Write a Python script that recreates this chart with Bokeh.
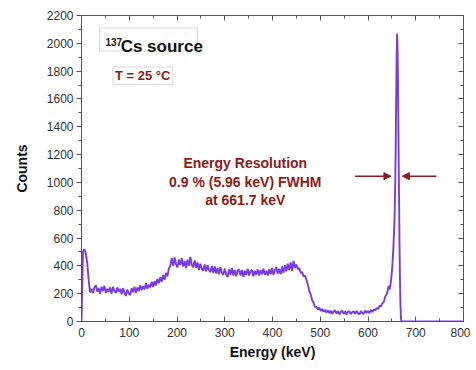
from bokeh.plotting import figure
from bokeh.models import (Label, BoxAnnotation, Arrow, NormalHead, LinearAxis,
                          FixedTicker, Range1d, CustomLabelingPolicy)
from bokeh.embed import file_html
from bokeh.resources import INLINE

# ---- data ----
energy_low = list(range(0, 640, 3))  # 0..639 keV, 3 keV channels
counts_low = [
    0, 500, 520, 490, 420, 300, 210, 235, 205, 245,
    260, 215, 240, 200, 250, 220, 255, 205, 235, 215,
    245, 200, 250, 220, 205, 245, 215, 235, 195, 240,
    205, 185, 230, 200, 190, 240, 210, 250, 205, 245,
    220, 260, 225, 255, 230, 275, 235, 265, 245, 285,
    250, 290, 260, 305, 275, 320, 285, 335, 300, 350,
    325, 380, 400, 455, 400, 460, 410, 390, 445, 405,
    455, 395, 435, 385, 445, 400, 465, 405, 390, 440,
    385, 425, 370, 415, 380, 365, 410, 360, 405, 370,
    355, 400, 350, 395, 345, 385, 340, 390, 350, 335,
    380, 340, 320, 375, 335, 385, 330, 370, 325, 365,
    375, 330, 370, 320, 365, 335, 380, 330, 360, 370,
    325, 365, 335, 375, 330, 370, 340, 380, 335, 365,
    330, 375, 340, 385, 335, 370, 390, 345, 380, 340,
    395, 350, 405, 360, 415, 370, 425, 365, 435, 385,
    410, 375, 385, 350, 355, 325, 330, 300, 265, 220,
    195, 155, 135, 105, 105, 85, 100, 75, 90, 70,
    85, 65, 80, 60, 78, 55, 72, 80, 57, 75,
    52, 70, 78, 55, 72, 50, 70, 75, 53, 68,
    73, 55, 77, 58, 52, 75, 62, 55, 80, 62,
    75, 60, 84, 68, 86, 80, 96, 90, 112, 110,
    130, 140, 178, 195,
]
energy_peak = [641, 643, 645, 647, 649, 651, 653, 655, 656, 657, 658, 659,
               660, 661, 662, 663, 664, 665, 666, 667, 668, 669, 670, 700, 800]
counts_peak = [215, 255, 230, 260, 320, 400, 520, 680, 800, 1000, 1250, 1600,
               1900, 2070, 1950, 1650, 1250, 900, 550, 300, 120, 30, 0, 0, 0]

energy = energy_low + energy_peak
counts = counts_low + counts_peak

x_ticks = [0, 100, 200, 300, 400, 500, 600, 700, 800]
y_ticks = [0, 200, 400, 600, 800, 1000, 1200, 1400, 1600, 1800, 2000, 2200]

RED = "#8e1b1b"
LINE = "#7a3ce2"
AXIS = "#555555"

p = figure(width=470, height=364, output_backend="svg", toolbar_location=None,
           x_range=Range1d(0, 800), y_range=Range1d(0, 2200),
           min_border_left=81, min_border_right=7, min_border_top=15,
           min_border_bottom=43, x_axis_location=None, y_axis_location=None)
p.grid.visible = False
p.outline_line_color = AXIS
p.outline_line_width = 1
p.background_fill_color = "white"
p.border_fill_color = "white"

xax = LinearAxis(ticker=FixedTicker(ticks=x_ticks, minor_ticks=list(range(0, 801, 50))),
                 axis_label="Energy (keV)")
yax = LinearAxis(ticker=FixedTicker(ticks=y_ticks, minor_ticks=list(range(0, 2201, 100))),
                 axis_label="Counts")
for ax in (xax, yax):
    ax.axis_line_color = AXIS
    ax.major_tick_line_color = AXIS
    ax.minor_tick_line_color = AXIS
    ax.major_label_text_font = "Liberation Sans"
    ax.major_label_text_font_size = "12px"
    ax.major_label_text_color = "#333333"
    ax.axis_label_text_font = "Liberation Sans"
    ax.axis_label_text_font_style = "bold"
    ax.axis_label_text_font_size = "14px"
    ax.axis_label_text_color = "#111111"
xax.major_tick_in = 5
xax.major_tick_out = 0
xax.minor_tick_in = 3
xax.minor_tick_out = 0
xax.major_label_standoff = 6
xax.axis_label_standoff = 4
yax.major_tick_in = 0
yax.major_tick_out = 5
yax.minor_tick_in = 0
yax.minor_tick_out = 3
yax.major_label_standoff = 3
yax.axis_label_standoff = 14
p.add_layout(xax, "below")
p.add_layout(yax, "left")

no_labels = CustomLabelingPolicy(code="return new indices.constructor(indices.size)")
top = LinearAxis(ticker=FixedTicker(ticks=x_ticks, minor_ticks=list(range(0, 801, 50))),
                 major_label_policy=no_labels, major_label_text_font_size="0px")
right = LinearAxis(ticker=FixedTicker(ticks=y_ticks, minor_ticks=list(range(0, 2201, 100))),
                   major_label_policy=no_labels, major_label_text_font_size="0px")
for ax in (top, right):
    ax.axis_line_color = AXIS
    ax.major_tick_line_color = AXIS
    ax.minor_tick_line_color = AXIS
    ax.major_tick_in = 5
    ax.major_tick_out = 0
    ax.minor_tick_in = 3
    ax.minor_tick_out = 0
    ax.major_label_standoff = 0
p.add_layout(top, "above")
p.add_layout(right, "right")

p.line(energy, counts, line_color=LINE, line_width=1.9)

# source label box
p.add_layout(BoxAnnotation(left=38, right=243, top=2110, bottom=1945,
                           fill_alpha=0, line_color="#888888", line_width=1))
p.add_layout(Label(x=50, y=2012, text="137", text_font="Liberation Sans",
                   text_font_style="bold", text_font_size="10px", text_color="#111111",
                   text_baseline="alphabetic"))
p.add_layout(Label(x=82, y=1976, text="Cs source", text_font="Liberation Sans",
                   text_font_style="bold", text_font_size="17px", text_color="#111111",
                   text_baseline="alphabetic"))

p.add_layout(BoxAnnotation(left=66, right=191, top=1830, bottom=1705,
                           fill_alpha=0, line_color="#888888", line_width=1))
p.add_layout(Label(x=128, y=1766, text="T = 25 °C", text_font="Liberation Sans",
                   text_font_style="bold", text_font_size="13px", text_color=RED,
                   text_align="center", text_baseline="middle"))

for yy, txt in [(1136, "Energy Resolution"), (1006, "0.9 % (5.96 keV) FWHM"),
                (877, "at 661.7 keV")]:
    p.add_layout(Label(x=343, y=yy, text=txt, text_font="Liberation Sans",
                       text_font_style="bold", text_font_size="14px", text_color=RED,
                       text_align="center", text_baseline="middle"))

for xs, xe in [(573, 648), (743, 672)]:
    p.add_layout(Arrow(end=NormalHead(size=7, fill_color=RED, line_color=RED),
                       x_start=xs, x_end=xe, y_start=1045, y_end=1045,
                       line_color=RED, line_width=1.5))

open("out.html", "w").write(file_html(p, INLINE))
